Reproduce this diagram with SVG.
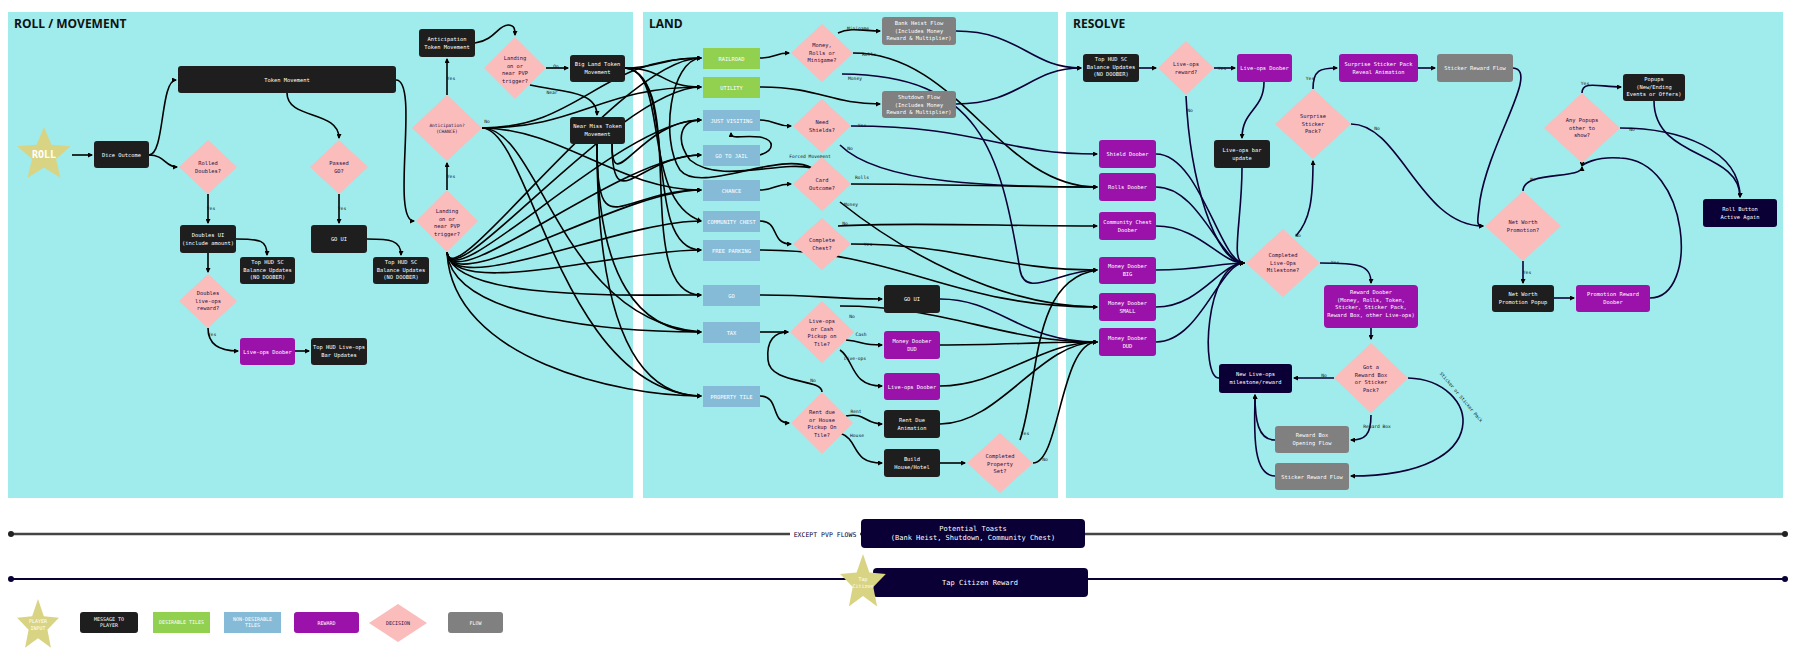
<svg xmlns="http://www.w3.org/2000/svg" xmlns:xlink="http://www.w3.org/1999/xlink" width="1800" height="663" viewBox="0 0 1800 663">
<style>
.panel{fill:#a0ebec}
.title{font-family:"Open Sans","DejaVu Sans",sans-serif;font-weight:bold;font-size:12px;fill:#111}
.msg{fill:#1e1e1e}
.rew{fill:#9a12aa}
.dec{fill:#fbbcbc}
.des{fill:#92d050}
.nd{fill:#86bbd8}
.flow{fill:#808080}
.navy{fill:#0a0036}
.star{fill:#d9d483}
text{font-family:"DejaVu Sans Mono","Liberation Mono",monospace;font-size:5.4px;text-anchor:middle}
.w{fill:#fff}
.k{fill:#2a1040}
.l{font-size:4.6px;fill:#111}
.c path{fill:none;stroke:#000;stroke-width:1.6;marker-end:url(#a)}
.c path.n{stroke:#0a0036}
</style>
<defs>
<marker id="a" viewBox="0 0 10 10" refX="8" refY="5" markerWidth="5" markerHeight="5" orient="auto" markerUnits="userSpaceOnUse"><path d="M0,0 L10,5 L0,10 z" fill="#000"/></marker>
<polygon id="st" points="0,-1 0.265,-0.364 0.951,-0.309 0.428,0.139 0.588,0.809 0,0.45 -0.588,0.809 -0.428,0.139 -0.951,-0.309 -0.265,-0.364"/>
</defs>
<rect width="1800" height="663" fill="#fff"/>
<rect class="panel" x="8" y="12" width="625" height="486"/>
<rect class="panel" x="643" y="12" width="415" height="486"/>
<rect class="panel" x="1066" y="12" width="717" height="486"/>
<text class="title" x="14" y="28" style="text-anchor:start">ROLL / MOVEMENT</text>
<text class="title" x="649" y="28" style="text-anchor:start">LAND</text>
<text class="title" x="1073" y="28" style="text-anchor:start">RESOLVE</text>

<g class="c">
<path d="M72,155 L92,155"/>
<path d="M149,155 C165,155 160,80 176,80"/>
<path d="M149,155 C165,155 165,167 177,167"/>
<path d="M287,93 C287,120 339,110 339,138"/>
<path d="M396,80 C420,80 390,221 414,221"/>
<path d="M208,194 L208,223"/>
<path d="M236,239 C260,239 267,240 267,255"/>
<path d="M208,253 L208,272"/>
<path d="M208,328 C208,345 220,351 238,351"/>
<path d="M295,351 L309,351"/>
<path d="M339,194 L339,223"/>
<path d="M367,239 C390,239 401,240 401,255"/>
<path d="M447,190 L447,163"/>
<path d="M447,95 L447,59"/>
<path d="M475,43 C495,40 498,25 508,25 C515,25 515,30 515,35"/>
<path d="M546,68 L568,68"/>
<path d="M530,85 C560,92 597,90 597,115"/>
<path d="M447,252 C452,300 620,58 701,58"/>
<path d="M447,252 C452,300 620,87 701,87"/>
<path d="M447,252 C452,300 620,120 701,120"/>
<path d="M447,252 C452,300 620,155 701,155"/>
<path d="M447,252 C452,300 620,190 701,190"/>
<path d="M447,252 C452,300 620,221 701,221"/>
<path d="M447,252 C452,300 620,250 701,250"/>
<path d="M447,252 C452,300 620,295 701,295"/>
<path d="M447,252 C452,320 620,332 701,332"/>
<path d="M447,252 C452,360 620,396 701,396"/>
<path d="M482,128 C580,128 600,58 701,58"/>
<path d="M482,128 C580,128 600,87 701,87"/>
<path d="M482,128 C560,128 620,190 701,190"/>
<path d="M482,128 C540,128 560,320 701,332"/>
<path d="M482,128 C530,128 560,390 701,396"/>
<path d="M597,144 C597,250 620,190 701,190"/>
<path d="M597,144 C597,280 640,332 701,332"/>
<path d="M597,144 C597,330 640,396 701,396"/>
<path d="M612,144 C612,200 640,120 701,120"/>
<path d="M612,144 C612,220 640,155 701,155"/>
<path d="M625,68 C660,68 660,58 701,58"/>
<path d="M625,68 C665,68 660,87 701,87"/>
<path d="M625,68 C670,70 640,200 701,221"/>
<path d="M625,68 C680,72 640,250 701,250"/>
<path d="M625,68 C690,75 630,295 701,295"/>
<path d="M760,58 C775,58 775,53 789,53"/>
<path d="M838,33 C850,27 865,31 880,31"/>
<path d="M760,87 C820,87 830,104 880,104"/>
<path d="M760,120 C775,120 775,126 791,126"/>
<path d="M760,155 C775,150 775,140 760,137 C740,135 731,140 731,133"/>
<path d="M760,190 C775,190 775,184 791,184"/>
<path d="M760,221 C780,221 770,244 791,244"/>
<path d="M812,168 C780,150 700,195 680,170 C660,140 670,60 701,58"/>
<path d="M812,168 C780,160 720,185 690,160 C675,140 680,120 701,120"/>
<path d="M760,295 C820,295 830,299 882,299"/>
<path d="M760,332 L788,332"/>
<path d="M846,340 C865,342 860,345 882,345"/>
<path d="M840,350 C855,360 850,386 882,386"/>
<path d="M760,396 C780,396 770,423 789,423"/>
<path d="M822,392 C822,378 770,385 768,360 C766,340 775,332 788,332"/>
<path d="M846,416 C865,412 865,424 882,424"/>
<path d="M840,433 C860,440 850,463 882,463"/>
<path d="M940,463 L965,463"/>
<path class="n" d="M956,31 C1020,31 1030,68 1081,68"/>
<path class="n" d="M956,104 C1020,104 1030,68 1081,68"/>
<path d="M853,53 C960,53 1000,187 1097,187"/>
<path class="n" d="M842,74 C980,75 1000,150 1020,270 C1025,300 1060,270 1097,270"/>
<path class="n" d="M851,126 C980,126 1000,154 1097,154"/>
<path class="n" d="M840,145 C880,185 1000,187 1097,187"/>
<path d="M851,184 C960,184 1000,187 1097,187"/>
<path d="M840,202 C900,250 1000,307 1097,307"/>
<path d="M838,226 C900,222 1000,226 1097,226"/>
<path d="M851,244 C960,244 1000,270 1097,270"/>
<path d="M760,250 C900,250 950,307 1097,307"/>
<path class="n" d="M940,299 C1000,299 1020,342 1097,342"/>
<path d="M840,306 C950,306 1000,342 1097,342"/>
<path d="M940,345 C1000,345 1040,342 1097,342"/>
<path d="M940,386 C1000,386 1040,342 1097,342"/>
<path d="M940,424 C1000,424 1040,342 1097,342"/>
<path d="M1020,440 C1040,380 1030,280 1097,270"/>
<path d="M1033,463 C1060,463 1060,342 1097,342"/>
<path class="n" d="M1139,68 L1156,68"/>
<path class="n" d="M1214,68 L1235,68"/>
<path class="n" d="M1186,96 C1190,180 1215,263 1244,263"/>
<path class="n" d="M1264,82 C1264,110 1242,110 1242,138"/>
<path class="n" d="M1242,168 C1242,220 1230,263 1244,263"/>
<path class="n" d="M1156,154 C1200,154 1220,263 1244,263"/>
<path class="n" d="M1156,187 C1200,187 1220,263 1244,263"/>
<path class="n" d="M1156,226 C1200,226 1220,263 1244,263"/>
<path class="n" d="M1156,270 C1200,270 1220,263 1244,263"/>
<path class="n" d="M1156,307 C1200,307 1220,263 1244,263"/>
<path class="n" d="M1156,342 C1200,342 1220,263 1244,263"/>
<path class="n" d="M1219,378 C1200,378 1205,263 1244,263"/>
<path class="n" d="M1296,236 C1310,220 1313,200 1313,161"/>
<path class="n" d="M1320,263 C1360,263 1371,265 1371,283"/>
<path class="n" d="M1371,328 L1371,339"/>
<path class="n" d="M1334,378 L1294,378"/>
<path class="n" d="M1371,415 C1371,435 1365,440 1351,440"/>
<path class="n" d="M1408,378 C1480,380 1500,476 1351,476"/>
<path class="n" d="M1275,440 C1258,440 1255,420 1255,395"/>
<path class="n" d="M1275,476 C1250,476 1255,420 1255,395"/>
<path class="n" d="M1313,89 C1313,70 1320,68 1337,68"/>
<path class="n" d="M1418,68 L1435,68"/>
<path class="n" d="M1513,68 C1540,70 1490,140 1480,200 C1478,220 1475,226 1483,226"/>
<path class="n" d="M1351,124 C1400,124 1420,226 1483,226"/>
<path class="n" d="M1523,261 L1523,283"/>
<path class="n" d="M1554,298 L1574,298"/>
<path class="n" d="M1650,298 C1700,298 1690,160 1620,158 C1595,156 1582,165 1582,166"/>
<path class="n" d="M1523,191 C1523,170 1582,180 1582,167"/>
<path class="n" d="M1582,93 C1582,80 1600,87 1621,87"/>
<path class="n" d="M1620,128 C1680,128 1740,150 1740,197"/>
<path class="n" d="M1654,101 C1654,160 1740,150 1740,197"/>
</g>

<g>
<text class="l" x="211" y="210">Yes</text><text class="l" x="342" y="210">Yes</text>
<text class="l" x="212" y="336">Yes</text><text class="l" x="451" y="178">Yes</text>
<text class="l" x="451" y="80">Yes</text><text class="l" x="487" y="123">No</text>
<text class="l" x="454" y="263">No</text><text class="l" x="556" y="68">On</text>
<text class="l" x="552" y="94">Near</text>
<text class="l" x="858" y="30">Minigame</text><text class="l" x="869" y="56">Rolls</text>
<text class="l" x="855" y="80">Money</text><text class="l" x="862" y="127">Yes</text>
<text class="l" x="850" y="150">No</text><text class="l" x="810" y="158">Forced Movement</text>
<text class="l" x="862" y="179">Rolls</text><text class="l" x="851" y="206">Money</text>
<text class="l" x="845" y="225">No</text><text class="l" x="868" y="246">Yes</text>
<text class="l" x="852" y="318">No</text><text class="l" x="861" y="336">Cash</text>
<text class="l" x="855" y="360">Live-ops</text><text class="l" x="813" y="382">No</text>
<text class="l" x="856" y="413">Rent</text><text class="l" x="857" y="437">House</text>
<text class="l" x="1025" y="435">Yes</text><text class="l" x="1045" y="461">No</text>
<text class="l" x="1222" y="70">Yes</text><text class="l" x="1190" y="112">No</text>
<text class="l" x="1310" y="80">Yes</text><text class="l" x="1298" y="237">No</text>
<text class="l" x="1335" y="264">Yes</text><text class="l" x="1377" y="130">No</text>
<text class="l" x="1324" y="377">No</text><text class="l" x="1377" y="428">Reward Box</text>
<text class="l" x="1460" y="398" transform="rotate(50 1460 398)">Sticker or Sticker Pack</text>
<text class="l" x="1527" y="274">Yes</text><text class="l" x="1533" y="181">No</text>
<text class="l" x="1585" y="85">Yes</text><text class="l" x="1632" y="131">No</text>
</g>

<g id="roll"><use href="#st" class="star" transform="translate(44,155) scale(28)"/><text class="w" x="44" y="158" style="font-size:10px;font-weight:bold">ROLL</text></g>
<g id="dice"><rect class="msg" x="94" y="141" width="55" height="27" rx="3"/><text class="w" x="121.5" y="157">Dice Outcome</text></g>
<g id="token"><rect class="msg" x="178" y="66" width="218" height="27" rx="3"/><text class="w" x="287" y="82">Token Movement</text></g>
<g id="rolled"><polygon class="dec" points="208,140 237,167 208,194 179,167"/><text class="k" x="208" y="165">Rolled<tspan x="208" dy="8">Doubles?</tspan></text></g>
<g id="passgo"><polygon class="dec" points="339,140 368,167 339,194 310,167"/><text class="k" x="339" y="165">Passed<tspan x="339" dy="8">GO?</tspan></text></g>
<g id="doublesui"><rect class="msg" x="180" y="225" width="56" height="28" rx="3"/><text class="w" x="208" y="237">Doubles UI<tspan x="208" dy="8">(include amount)</tspan></text></g>
<g id="hud1"><rect class="msg" x="240" y="257" width="55" height="27" rx="3"/><text class="w" x="267.5" y="264">Top HUD SC<tspan x="267.5" dy="7.5">Balance Updates</tspan><tspan x="267.5" dy="7.5">(NO DOOBER)</tspan></text></g>
<g id="goui"><rect class="msg" x="311" y="225" width="56" height="28" rx="3"/><text class="w" x="339" y="241">GO UI</text></g>
<g id="hud2"><rect class="msg" x="373" y="257" width="56" height="27" rx="3"/><text class="w" x="401" y="264">Top HUD SC<tspan x="401" dy="7.5">Balance Updates</tspan><tspan x="401" dy="7.5">(NO DOOBER)</tspan></text></g>
<g id="dlr"><polygon class="dec" points="208,274 237,301 208,328 179,301"/><text class="k" x="208" y="295">Doubles<tspan x="208" dy="7.5">live-ops</tspan><tspan x="208" dy="7.5">reward?</tspan></text></g>
<g id="lod1"><rect class="rew" x="240" y="338" width="55" height="27" rx="3"/><text class="w" x="267.5" y="354">Live-ops Doober</text></g>
<g id="hudlo"><rect class="msg" x="311" y="338" width="56" height="27" rx="3"/><text class="w" x="339" y="349">Top HUD Live-ops<tspan x="339" dy="8">Bar Updates</tspan></text></g>
<g id="anttok"><rect class="msg" x="419" y="29" width="56" height="28" rx="3"/><text class="w" x="447" y="41">Anticipation<tspan x="447" dy="8">Token Movement</tspan></text></g>
<g id="landtop"><polygon class="dec" points="515,37 546,68 515,99 484,68"/><text class="k" x="515" y="60">Landing<tspan x="515" dy="7.5">on or</tspan><tspan x="515" dy="7.5">near PVP</tspan><tspan x="515" dy="7.5">trigger?</tspan></text></g>
<g id="bigland"><rect class="msg" x="570" y="55" width="55" height="27" rx="3"/><text class="w" x="597.5" y="66">Big Land Token<tspan x="597.5" dy="8">Movement</tspan></text></g>
<g id="antic"><polygon class="dec" points="447,95 482,128 447,161 412,128"/><text class="k" x="447" y="127" style="font-size:4.5px">Anticipation?<tspan x="447" dy="6">(CHANCE)</tspan></text></g>
<g id="nearmiss"><rect class="msg" x="570" y="117" width="55" height="27" rx="3"/><text class="w" x="597.5" y="128">Near Miss Token<tspan x="597.5" dy="8">Movement</tspan></text></g>
<g id="landlow"><polygon class="dec" points="447,190 478,221 447,252 416,221"/><text class="k" x="447" y="213">Landing<tspan x="447" dy="7.5">on or</tspan><tspan x="447" dy="7.5">near PVP</tspan><tspan x="447" dy="7.5">trigger?</tspan></text></g>

<g id="railroad"><rect class="des" x="703" y="48" width="57" height="21"/><text class="w" x="731.5" y="60.5">RAILROAD</text></g>
<g id="utility"><rect class="des" x="703" y="77" width="57" height="21"/><text class="w" x="731.5" y="89.5">UTILITY</text></g>
<g id="justvisit"><rect class="nd" x="703" y="110" width="57" height="21"/><text class="w" x="731.5" y="122.5">JUST VISITING</text></g>
<g id="gotojail"><rect class="nd" x="703" y="145" width="57" height="21"/><text class="w" x="731.5" y="157.5">GO TO JAIL</text></g>
<g id="chance"><rect class="nd" x="703" y="180" width="57" height="21"/><text class="w" x="731.5" y="192.5">CHANCE</text></g>
<g id="cchest"><rect class="nd" x="703" y="211" width="57" height="21"/><text class="w" x="731.5" y="223.5">COMMUNITY CHEST</text></g>
<g id="freepark"><rect class="nd" x="703" y="240" width="57" height="21"/><text class="w" x="731.5" y="252.5">FREE PARKING</text></g>
<g id="gotile"><rect class="nd" x="703" y="285" width="57" height="21"/><text class="w" x="731.5" y="297.5">GO</text></g>
<g id="tax"><rect class="nd" x="703" y="322" width="57" height="21"/><text class="w" x="731.5" y="334.5">TAX</text></g>
<g id="property"><rect class="nd" x="703" y="386" width="57" height="21"/><text class="w" x="731.5" y="398.5">PROPERTY TILE</text></g>
<g id="mrm"><polygon class="dec" points="822,24 853,53 822,82 791,53"/><text class="k" x="822" y="47">Money,<tspan x="822" dy="7.5">Rolls or</tspan><tspan x="822" dy="7.5">Minigame?</tspan></text></g>
<g id="bankheist"><rect class="flow" x="882" y="17" width="74" height="28" rx="3"/><text class="w" x="919" y="25">Bank Heist Flow<tspan x="919" dy="7.5">(Includes Money</tspan><tspan x="919" dy="7.5">Reward &amp; Multiplier)</tspan></text></g>
<g id="shutdown"><rect class="flow" x="882" y="91" width="74" height="27" rx="3"/><text class="w" x="919" y="99">Shutdown Flow<tspan x="919" dy="7.5">(Includes Money</tspan><tspan x="919" dy="7.5">Reward &amp; Multiplier)</tspan></text></g>
<g id="shields"><polygon class="dec" points="822,99 851,126 822,153 793,126"/><text class="k" x="822" y="124">Need<tspan x="822" dy="8">Shields?</tspan></text></g>
<g id="card"><polygon class="dec" points="822,157 851,184 822,211 793,184"/><text class="k" x="822" y="182">Card<tspan x="822" dy="8">Outcome?</tspan></text></g>
<g id="chest"><polygon class="dec" points="822,218 851,244 822,270 793,244"/><text class="k" x="822" y="242">Complete<tspan x="822" dy="8">Chest?</tspan></text></g>
<g id="goui2"><rect class="msg" x="884" y="285" width="56" height="28" rx="3"/><text class="w" x="912" y="301">GO UI</text></g>
<g id="locash"><polygon class="dec" points="822,301 854,332 822,363 790,332"/><text class="k" x="822" y="323">Live-ops<tspan x="822" dy="7.5">or Cash</tspan><tspan x="822" dy="7.5">Pickup on</tspan><tspan x="822" dy="7.5">Tile?</tspan></text></g>
<g id="mdud1"><rect class="rew" x="884" y="331" width="56" height="28" rx="3"/><text class="w" x="912" y="343">Money Doober<tspan x="912" dy="8">DUD</tspan></text></g>
<g id="lod2"><rect class="rew" x="884" y="373" width="56" height="27" rx="3"/><text class="w" x="912" y="389">Live-ops Doober</text></g>
<g id="rentdue"><polygon class="dec" points="822,392 853,423 822,454 791,423"/><text class="k" x="822" y="414">Rent due<tspan x="822" dy="7.5">or House</tspan><tspan x="822" dy="7.5">Pickup On</tspan><tspan x="822" dy="7.5">Tile?</tspan></text></g>
<g id="rentanim"><rect class="msg" x="884" y="410" width="56" height="28" rx="3"/><text class="w" x="912" y="422">Rent Due<tspan x="912" dy="8">Animation</tspan></text></g>
<g id="build"><rect class="msg" x="884" y="449" width="56" height="28" rx="3"/><text class="w" x="912" y="461">Build<tspan x="912" dy="8">House/Hotel</tspan></text></g>
<g id="propset"><polygon class="dec" points="1000,433 1033,463 1000,493 967,463"/><text class="k" x="1000" y="458">Completed<tspan x="1000" dy="7.5">Property</tspan><tspan x="1000" dy="7.5">Set?</tspan></text></g>

<g id="hud3"><rect class="msg" x="1083" y="54" width="56" height="28" rx="3"/><text class="w" x="1111" y="61">Top HUD SC<tspan x="1111" dy="7.5">Balance Updates</tspan><tspan x="1111" dy="7.5">(NO DOOBER)</tspan></text></g>
<g id="lor"><polygon class="dec" points="1186,41 1214,68 1186,95 1158,68"/><text class="k" x="1186" y="66">Live-ops<tspan x="1186" dy="8">reward?</tspan></text></g>
<g id="lod3"><rect class="rew" x="1237" y="54" width="55" height="28" rx="3"/><text class="w" x="1264.5" y="70">Live-ops Doober</text></g>
<g id="ssreveal"><rect class="rew" x="1339" y="54" width="79" height="28" rx="3"/><text class="w" x="1378.5" y="66">Surprise Sticker Pack<tspan x="1378.5" dy="8">Reveal Animation</tspan></text></g>
<g id="srf1"><rect class="flow" x="1437" y="54" width="76" height="28" rx="3"/><text class="w" x="1475" y="70">Sticker Reward Flow</text></g>
<g id="ssp"><polygon class="dec" points="1313,89 1351,124 1313,159 1275,124"/><text class="k" x="1313" y="118">Surprise<tspan x="1313" dy="7.5">Sticker</tspan><tspan x="1313" dy="7.5">Pack?</tspan></text></g>
<g id="lobar"><rect class="msg" x="1214" y="140" width="56" height="28" rx="3"/><text class="w" x="1242" y="152">Live-ops bar<tspan x="1242" dy="8">update</tspan></text></g>
<g id="shield"><rect class="rew" x="1099" y="140" width="57" height="28" rx="3"/><text class="w" x="1127.5" y="156">Shield Doober</text></g>
<g id="rolls"><rect class="rew" x="1099" y="173" width="57" height="28" rx="3"/><text class="w" x="1127.5" y="189">Rolls Doober</text></g>
<g id="ccd"><rect class="rew" x="1099" y="212" width="57" height="28" rx="3"/><text class="w" x="1127.5" y="224">Community Chest<tspan x="1127.5" dy="8">Doober</tspan></text></g>
<g id="mbig"><rect class="rew" x="1099" y="257" width="57" height="27" rx="3"/><text class="w" x="1127.5" y="268">Money Doober<tspan x="1127.5" dy="8">BIG</tspan></text></g>
<g id="msmall"><rect class="rew" x="1099" y="293" width="57" height="28" rx="3"/><text class="w" x="1127.5" y="305">Money Doober<tspan x="1127.5" dy="8">SMALL</tspan></text></g>
<g id="mdud2"><rect class="rew" x="1099" y="328" width="57" height="28" rx="3"/><text class="w" x="1127.5" y="340">Money Doober<tspan x="1127.5" dy="8">DUD</tspan></text></g>
<g id="milestone"><polygon class="dec" points="1283,229 1320,263 1283,297 1246,263"/><text class="k" x="1283" y="257">Completed<tspan x="1283" dy="7.5">Live-Ops</tspan><tspan x="1283" dy="7.5">Milestone?</tspan></text></g>
<g id="rewdoob"><rect class="rew" x="1324" y="285" width="94" height="43" rx="4"/><text class="w" x="1371" y="294" style="font-size:5.4px">Reward Doober<tspan x="1371" dy="7.5">(Money, Rolls, Token,</tspan><tspan x="1371" dy="7.5">Sticker, Sticker Pack,</tspan><tspan x="1371" dy="7.5">Reward Box, other Live-ops)</tspan></text></g>
<g id="gota"><polygon class="dec" points="1371,343 1408,378 1371,413 1334,378"/><text class="k" x="1371" y="369">Got a<tspan x="1371" dy="7.5">Reward Box</tspan><tspan x="1371" dy="7.5">or Sticker</tspan><tspan x="1371" dy="7.5">Pack?</tspan></text></g>
<g id="newlo"><rect class="navy" x="1219" y="364" width="73" height="29" rx="3"/><text class="w" x="1255.5" y="376">New Live-ops<tspan x="1255.5" dy="8">milestone/reward</tspan></text></g>
<g id="rbox"><rect class="flow" x="1275" y="426" width="74" height="27" rx="3"/><text class="w" x="1312" y="437">Reward Box<tspan x="1312" dy="8">Opening Flow</tspan></text></g>
<g id="srf2"><rect class="flow" x="1275" y="463" width="74" height="27" rx="3"/><text class="w" x="1312" y="478.5">Sticker Reward Flow</text></g>
<g id="nwp"><polygon class="dec" points="1523,191 1561,226 1523,261 1485,226"/><text class="k" x="1523" y="224">Net Worth<tspan x="1523" dy="8">Promotion?</tspan></text></g>
<g id="nwpop"><rect class="msg" x="1492" y="285" width="62" height="27" rx="3"/><text class="w" x="1523" y="296">Net Worth<tspan x="1523" dy="8">Promotion Popup</tspan></text></g>
<g id="promo"><rect class="rew" x="1576" y="285" width="74" height="27" rx="3"/><text class="w" x="1613" y="296">Promotion Reward<tspan x="1613" dy="8">Doober</tspan></text></g>
<g id="anypop"><polygon class="dec" points="1582,93 1620,128 1582,163 1544,128"/><text class="k" x="1582" y="122">Any Popups<tspan x="1582" dy="7.5">other to</tspan><tspan x="1582" dy="7.5">show?</tspan></text></g>
<g id="popups"><rect class="msg" x="1623" y="74" width="62" height="27" rx="3"/><text class="w" x="1654" y="81">Popups<tspan x="1654" dy="7.5">(New/Ending</tspan><tspan x="1654" dy="7.5">Events or Offers)</tspan></text></g>
<g id="rollbtn"><rect class="navy" x="1703" y="199" width="74" height="28" rx="3"/><text class="w" x="1740" y="211">Roll Button<tspan x="1740" dy="8">Active Again</tspan></text></g>

<g id="toasts">
<line x1="11" y1="534" x2="1785" y2="534" stroke="#444" stroke-width="2.5"/>
<circle cx="11" cy="534" r="3" fill="#222"/><circle cx="1785" cy="534" r="3" fill="#222"/>
<rect x="790" y="528" width="70" height="12" fill="#fff"/>
<text x="825" y="536.5" style="font-size:6.5px;fill:#0a0036">EXCEPT PVP FLOWS</text>
<rect class="navy" x="861" y="519" width="224" height="29" rx="4"/>
<text class="w" x="973" y="531" style="font-size:7px">Potential Toasts<tspan x="973" dy="9">(Bank Heist, Shutdown, Community Chest)</tspan></text>
</g>
<g id="tapcitizen">
<line x1="11" y1="579" x2="1785" y2="579" stroke="#0a0036" stroke-width="2"/>
<circle cx="11" cy="579" r="3" fill="#0a0036"/><circle cx="1785" cy="579" r="3" fill="#0a0036"/>
<rect class="navy" x="873" y="568" width="215" height="29" rx="4"/>
<text class="w" x="980" y="585" style="font-size:7px">Tap Citizen Reward</text>
<use href="#st" class="star" transform="translate(863,583) scale(24,29)"/>
<text class="w" x="863" y="581" style="font-size:5px">Tap<tspan x="863" dy="6.5">Citizen</tspan></text>
</g>
<g id="legend">
<use href="#st" class="star" transform="translate(38,626) scale(22,27)"/>
<text class="w" x="38" y="623" style="font-size:5px">PLAYER<tspan x="38" dy="6.5">INPUT</tspan></text>
<rect class="msg" x="80" y="612" width="58" height="21" rx="3"/><text class="w" x="109" y="620.5" style="font-size:5px">MESSAGE TO<tspan x="109" dy="6.5">PLAYER</tspan></text>
<rect class="des" x="153" y="612" width="57" height="21"/><text class="w" x="181.5" y="624" style="font-size:5px">DESIRABLE TILES</text>
<rect class="nd" x="224" y="612" width="57" height="21"/><text class="w" x="252.5" y="620.5" style="font-size:5px">NON-DESIRABLE<tspan x="252.5" dy="6.5">TILES</tspan></text>
<rect class="rew" x="294" y="612" width="65" height="21" rx="3"/><text class="w" x="326.5" y="624.5" style="font-size:5px">REWARD</text>
<polygon class="dec" points="398,604 427,623 398,642 369,623"/><text class="k" x="398" y="625" style="font-size:5px">DECISION</text>
<rect class="flow" x="448" y="612" width="55" height="21" rx="3"/><text class="w" x="475.5" y="624.5" style="font-size:5px">FLOW</text>
</g>
</svg>
